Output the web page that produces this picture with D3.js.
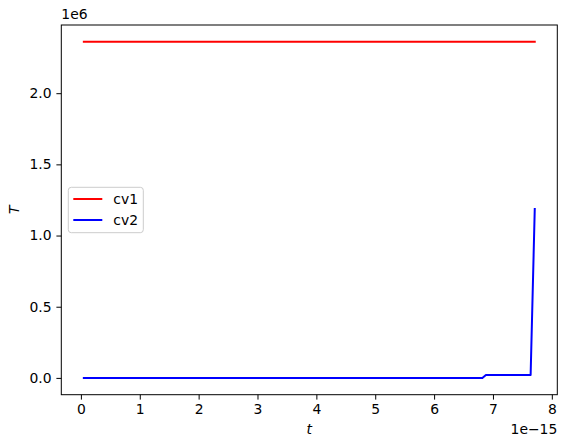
<!DOCTYPE html>
<html>
<head>
<meta charset="utf-8">
<script src="https://cdn.jsdelivr.net/npm/d3@7"></script>
<style>
  body { margin: 0; background: #fff; }
  svg { display: block; font-family: "DejaVu Sans", sans-serif; }
</style>
</head>
<body>
<div id="chart"></div>
<script>
// time samples, in units of 1e-15
var tValues = [0.05, 6.82, 6.88, 7.64, 7.71];
var cv1 = [2.361e6, 2.361e6, 2.361e6, 2.361e6, 2.361e6];
var cv2 = [0, 0, 0.021e6, 0.021e6, 1.186e6];
var xTicks = [0, 1, 2, 3, 4, 5, 6, 7, 8];
var yTicks = [0, 0.5e6, 1.0e6, 1.5e6, 2.0e6];
var seriesNames = ['cv1', 'cv2'];
var seriesColors = ['#ff0000', '#0000ff'];

var width = 567, height = 448;
var margin = { top: 25, right: 9.7, bottom: 53.3, left: 61.3 };
var plotW = width - margin.left - margin.right;
var plotH = height - margin.top - margin.bottom;

// matplotlib style 5% padding around data
var xMin = d3.min(tValues), xMax = d3.max(tValues);
var xPad = (xMax - xMin) * 0.05;
var allY = cv1.concat(cv2);
var yMin = d3.min(allY), yMax = d3.max(allY);
var yPad = (yMax - yMin) * 0.05;

var x = d3.scaleLinear().domain([xMin - xPad, xMax + xPad]).range([0, plotW]);
var y = d3.scaleLinear().domain([yMin - yPad, yMax + yPad]).range([plotH, 0]);

var svg = d3.select('#chart').append('svg')
    .attr('width', width)
    .attr('height', height);

var chart = svg.append('g')
    .attr('transform', 'translate(' + margin.left + ',' + margin.top + ')');

var series = [cv1, cv2].map(function (vals, i) {
    return {
        name: seriesNames[i],
        color: seriesColors[i],
        points: vals.map(function (v, j) { return [tValues[j], v]; })
    };
});

var line = d3.line()
    .x(function (d) { return x(d[0]); })
    .y(function (d) { return y(d[1]); });

chart.selectAll('.series')
    .data(series)
    .enter().append('path')
    .attr('class', 'series')
    .attr('d', function (d) { return line(d.points); })
    .attr('fill', 'none')
    .attr('stroke', function (d) { return d.color; })
    .attr('stroke-width', 2)
    .attr('stroke-linejoin', 'round')
    .attr('stroke-linecap', 'square');

// axes
var xAxis = d3.axisBottom(x).tickValues(xTicks).tickSize(4.9).tickPadding(4.9)
    .tickFormat(d3.format('d'));
var yAxis = d3.axisLeft(y).tickValues(yTicks).tickSize(4.9).tickPadding(4.9)
    .tickFormat(function (d) { return (d / 1e6).toFixed(1); });

var gx = chart.append('g')
    .attr('transform', 'translate(0,' + plotH + ')')
    .call(xAxis);
var gy = chart.append('g').call(yAxis);

[gx, gy].forEach(function (g) {
    g.select('.domain').remove();
    g.selectAll('.tick line').attr('stroke', '#000').attr('stroke-width', 1);
    g.selectAll('.tick text')
        .attr('fill', '#000')
        .style('font-size', '13.9px')
        .style('font-family', '"DejaVu Sans", sans-serif');
});

// frame
chart.append('rect')
    .attr('x', 0).attr('y', 0)
    .attr('width', plotW).attr('height', plotH)
    .attr('fill', 'none')
    .attr('stroke', '#000')
    .attr('stroke-width', 1);

// offset texts
svg.append('text')
    .attr('x', margin.left)
    .attr('y', margin.top - 6)
    .style('font-size', '13.9px')
    .text('1e6');
svg.append('text')
    .attr('x', margin.left + plotW)
    .attr('y', margin.top + plotH + 39)
    .attr('text-anchor', 'end')
    .style('font-size', '13.9px')
    .text('1e\u221215');

// axis labels
svg.append('text')
    .attr('x', margin.left + plotW / 2)
    .attr('y', margin.top + plotH + 39)
    .attr('text-anchor', 'middle')
    .style('font-size', '13.9px')
    .style('font-style', 'italic')
    .text('t');
svg.append('text')
    .attr('transform', 'translate(19,' + (margin.top + plotH / 2) + ') rotate(-90)')
    .attr('text-anchor', 'middle')
    .style('font-size', '13.9px')
    .style('font-style', 'italic')
    .text('T');

// legend
var legend = chart.append('g')
    .attr('transform', 'translate(7,162.3)');
legend.append('rect')
    .attr('width', 75).attr('height', 45.4)
    .attr('rx', 3).attr('ry', 3)
    .attr('fill', '#fff')
    .attr('fill-opacity', 0.8)
    .attr('stroke', '#cccccc')
    .attr('stroke-width', 1);
var items = legend.selectAll('.item')
    .data(series)
    .enter().append('g')
    .attr('class', 'item')
    .attr('transform', function (d, i) { return 'translate(0,' + (11.7 + i * 21) + ')'; });
items.append('line')
    .attr('x1', 5).attr('x2', 34)
    .attr('stroke', function (d) { return d.color; })
    .attr('stroke-width', 2);
items.append('text')
    .attr('x', 45).attr('y', 5)
    .style('font-size', '13.9px')
    .text(function (d) { return d.name; });
</script>
</body>
</html>
